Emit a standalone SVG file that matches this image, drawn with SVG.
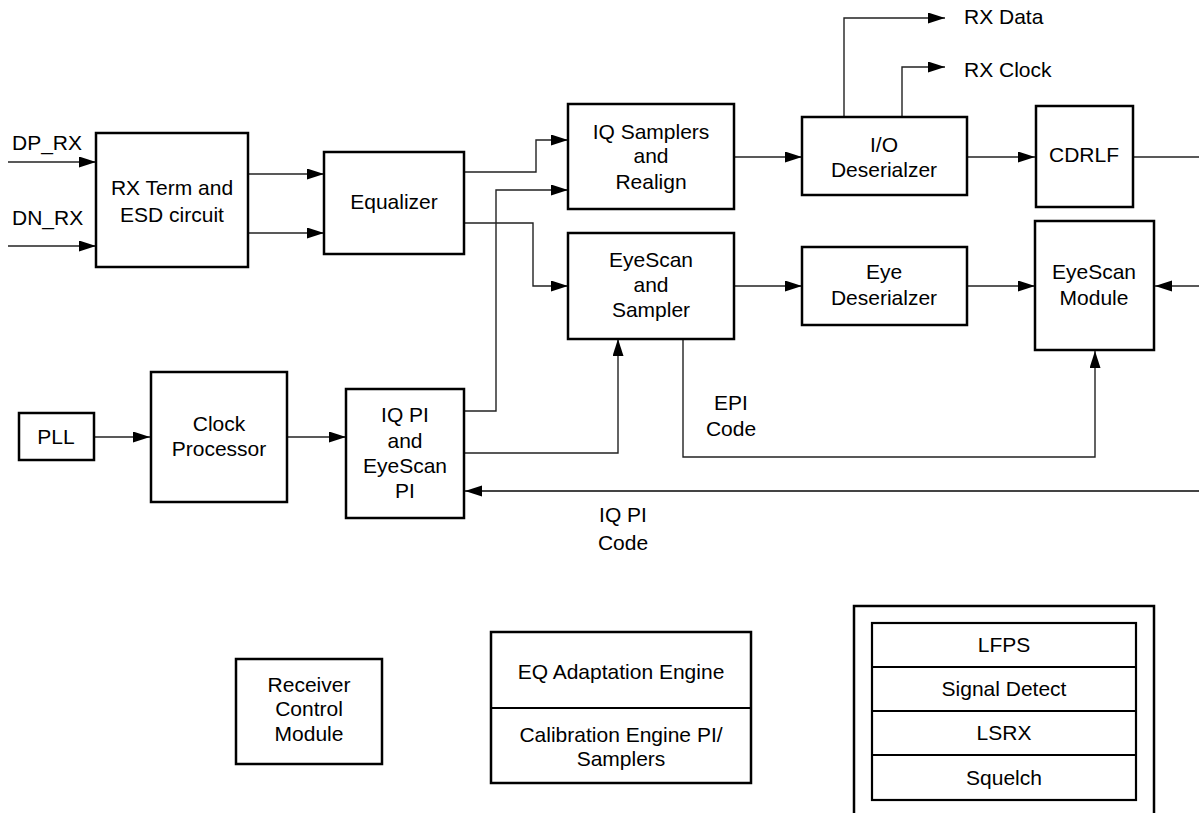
<svg xmlns="http://www.w3.org/2000/svg" width="1199" height="813" viewBox="0 0 1199 813">
<style>
.box{fill:#fff;stroke:#000;stroke-width:2.5}
.in{fill:#fff;stroke:#000;stroke-width:2.2}
.t{font-family:"Liberation Sans",Arial,sans-serif;font-size:21px;fill:#000;text-anchor:middle}
.l{text-anchor:start}
.c{fill:none;stroke:#222;stroke-width:1.4}
.cg{fill:none;stroke:#444;stroke-width:2}
</style>
<defs>
<marker id="ah" markerUnits="userSpaceOnUse" markerWidth="18" markerHeight="12" refX="17" refY="5.5" orient="auto">
<path d="M0,0 L17,5.5 L0,11 z" fill="#000"/>
</marker>
</defs>
<rect width="1199" height="813" fill="#fff"/>
<g id="connectors">
<path class="c" d="M8,162 H96" marker-end="url(#ah)"/>
<path class="c" d="M8,246 H96" marker-end="url(#ah)"/>
<path class="c" d="M248,174 H324" marker-end="url(#ah)"/>
<path class="c" d="M248,233 H324" marker-end="url(#ah)"/>
<path class="c" d="M464,172 H536 V140 H568" marker-end="url(#ah)"/>
<path class="c" d="M464,223 H533 V286 H568" marker-end="url(#ah)"/>
<path class="c" d="M464,411 H496 V190 H568" marker-end="url(#ah)"/>
<path class="c" d="M464,453 H618 V339" marker-end="url(#ah)"/>
<path class="c" d="M734,157 H802" marker-end="url(#ah)"/>
<path class="c" d="M844,117 V18 H945" marker-end="url(#ah)"/>
<path class="c" d="M902,117 V67 H945" marker-end="url(#ah)"/>
<path class="c" d="M967,157 H1035" marker-end="url(#ah)"/>
<path class="c" d="M1133,157 H1199"/>
<path class="c" d="M734,286 H802" marker-end="url(#ah)"/>
<path class="c" d="M967,286 H1035" marker-end="url(#ah)"/>
<path class="c" d="M1199,286 H1155" marker-end="url(#ah)"/>
<path class="c" d="M683,339 V457 H1095 V351" marker-end="url(#ah)"/>
<path class="c" d="M94,437 H150" marker-end="url(#ah)"/>
<path class="c" d="M287,437 H346" marker-end="url(#ah)"/>
<path class="cg" d="M1199,491 H465" marker-end="url(#ah)"/>
<text class="t l" x="12" y="150">DP_RX</text>
<text class="t l" x="12" y="225">DN_RX</text>
<text class="t l" x="964" y="24">RX Data</text>
<text class="t l" x="964" y="77">RX Clock</text>
<text class="t" x="731" y="410">EPI</text>
<text class="t" x="731" y="436">Code</text>
<text class="t" x="623" y="522">IQ PI</text>
<text class="t" x="623" y="550">Code</text>
</g>
<g id="rxterm">
<rect class="box" x="96" y="133" width="152" height="134"/>
<text class="t" x="172" y="195">RX Term and</text>
<text class="t" x="172" y="222">ESD circuit</text>
</g>
<g id="equalizer">
<rect class="box" x="324" y="152" width="140" height="102"/>
<text class="t" x="394" y="209">Equalizer</text>
</g>
<g id="iqsamplers">
<rect class="box" x="568" y="104" width="166" height="105"/>
<text class="t" x="651" y="139">IQ Samplers</text>
<text class="t" x="651" y="163">and</text>
<text class="t" x="651" y="189">Realign</text>
</g>
<g id="eyescansampler">
<rect class="box" x="568" y="233" width="166" height="106"/>
<text class="t" x="651" y="267">EyeScan</text>
<text class="t" x="651" y="292">and</text>
<text class="t" x="651" y="317">Sampler</text>
</g>
<g id="iodes">
<rect class="box" x="802" y="117" width="165" height="78"/>
<text class="t" x="884" y="152">I/O</text>
<text class="t" x="884" y="177">Deserialzer</text>
</g>
<g id="cdrlf">
<rect class="box" x="1036" y="106" width="97" height="101"/>
<text class="t" x="1084" y="162">CDRLF</text>
</g>
<g id="eyedes">
<rect class="box" x="802" y="247" width="165" height="78"/>
<text class="t" x="884" y="279">Eye</text>
<text class="t" x="884" y="305">Deserialzer</text>
</g>
<g id="eyescanmodule">
<rect class="box" x="1035" y="221" width="119" height="129"/>
<text class="t" x="1094" y="279">EyeScan</text>
<text class="t" x="1094" y="305">Module</text>
</g>
<g id="pll">
<rect class="box" x="19" y="413" width="75" height="47"/>
<text class="t" x="56" y="444">PLL</text>
</g>
<g id="clockproc">
<rect class="box" x="151" y="372" width="136" height="130"/>
<text class="t" x="219" y="431">Clock</text>
<text class="t" x="219" y="456">Processor</text>
</g>
<g id="iqpi">
<rect class="box" x="346" y="389" width="118" height="129"/>
<text class="t" x="405" y="422">IQ PI</text>
<text class="t" x="405" y="448">and</text>
<text class="t" x="405" y="473">EyeScan</text>
<text class="t" x="405" y="498">PI</text>
</g>
<g id="rcm">
<rect class="box" x="236" y="659" width="146" height="105"/>
<text class="t" x="309" y="692">Receiver</text>
<text class="t" x="309" y="716">Control</text>
<text class="t" x="309" y="741">Module</text>
</g>
<g id="eqcal">
<rect class="box" x="491" y="632" width="260" height="151"/>
<line class="in" x1="491" y1="708" x2="751" y2="708"/>
<text class="t" x="621" y="679">EQ Adaptation Engine</text>
<text class="t" x="621" y="742">Calibration Engine PI/</text>
<text class="t" x="621" y="766">Samplers</text>
</g>
<g id="lowspeed">
<rect class="box" x="854" y="606" width="300" height="220"/>
<rect class="in" x="872" y="623" width="264" height="177"/>
<line class="in" x1="872" y1="667" x2="1136" y2="667"/>
<line class="in" x1="872" y1="711" x2="1136" y2="711"/>
<line class="in" x1="872" y1="755" x2="1136" y2="755"/>
<text class="t" x="1004" y="652">LFPS</text>
<text class="t" x="1004" y="696">Signal Detect</text>
<text class="t" x="1004" y="740">LSRX</text>
<text class="t" x="1004" y="785">Squelch</text>
</g>
</svg>
